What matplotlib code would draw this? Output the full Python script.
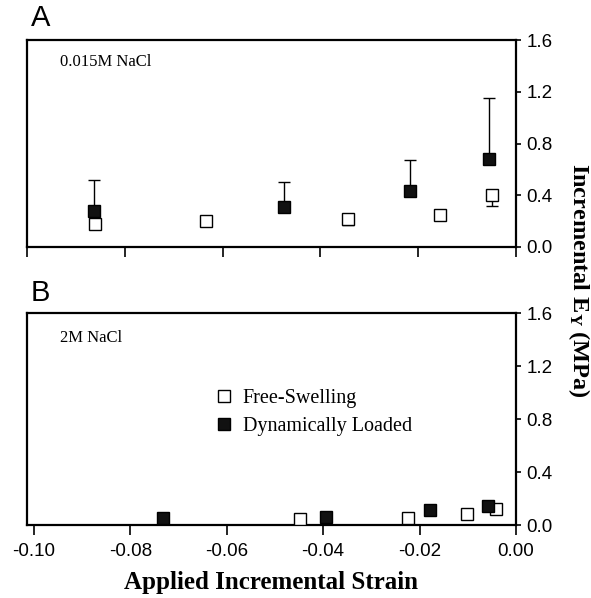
import numpy as np
import matplotlib
matplotlib.use("Agg")
import matplotlib.pyplot as plt

# panel A: 0.015M NaCl
a_free_x = [-0.0860, -0.0633, -0.0344, -0.0156, -0.0049]
a_free_y = [0.18, 0.20, 0.22, 0.25, 0.40]
a_free_err_lo = [0.0, 0.0, 0.05, 0.0, 0.08]
a_dyn_x = [-0.0862, -0.0474, -0.0217, -0.0056]
a_dyn_y = [0.28, 0.31, 0.43, 0.68]
a_dyn_err_hi = [0.24, 0.19, 0.24, 0.47]

# panel B: 2M NaCl
b_free_x = [-0.0447, -0.0224, -0.0102, -0.0041]
b_free_y = [0.045, 0.055, 0.083, 0.12]
b_dyn_x = [-0.0732, -0.0394, -0.0178, -0.0058]
b_dyn_y = [0.05, 0.06, 0.11, 0.146]
b_dyn_err_hi = [0.0, 0.0, 0.0, 0.03]

xticks = [-0.10, -0.08, -0.06, -0.04, -0.02, 0.00]
yticks = [0.0, 0.4, 0.8, 1.2, 1.6]

plt.rcParams["axes.unicode_minus"] = False
plt.rcParams["mathtext.fontset"] = "custom"
plt.rcParams["mathtext.rm"] = "Liberation Serif:bold"
plt.rcParams["mathtext.it"] = "Liberation Serif:bold"

sans = "Liberation Sans"
serif = "Liberation Serif"

fig = plt.figure(figsize=(5.91, 5.98), dpi=100)
axA = fig.add_axes([0.0457, 0.587, 0.8274, 0.346])
axB = fig.add_axes([0.0457, 0.122, 0.8274, 0.3545])

ms = 8.5


def style_axis(ax, xlim, labels):
    ax.set_xlim(*xlim)
    ax.set_ylim(0, 1.6)
    ax.set_xticks(xticks)
    ax.set_yticks(yticks)
    ax.set_yticklabels([f"{v:.1f}" for v in yticks], family=sans, fontsize=13.5)
    if labels:
        ax.set_xticklabels([f"{v:.2f}" for v in xticks], family=sans, fontsize=13.5)
    else:
        ax.set_xticklabels([])
    ax.yaxis.tick_right()
    ax.tick_params(axis="y", direction="out", length=3.5, width=1.2, pad=4)
    ax.tick_params(axis="x", direction="out", length=7.0, width=1.2, pad=6)
    for s in ax.spines.values():
        s.set_linewidth(1.6)


def draw(ax, fx, fy, dx, dy, f_lo=None, d_hi=None):
    n = len(fx)
    fe = None if f_lo is None else [f_lo, [0] * n]
    ax.errorbar(fx, fy, yerr=fe, fmt="s", ms=ms, mfc="white", mec="black",
                mew=1.0, ecolor="black", elinewidth=1.0, capsize=4, zorder=3)
    m = len(dx)
    de = None if d_hi is None else [[0] * m, d_hi]
    ax.errorbar(dx, dy, yerr=de, fmt="s", ms=ms, mfc="#111111", mec="black",
                mew=1.0, ecolor="black", elinewidth=1.0, capsize=4, zorder=4)


draw(axA, a_free_x, a_free_y, a_dyn_x, a_dyn_y, a_free_err_lo, a_dyn_err_hi)
style_axis(axA, (-0.10, 0.0), False)
axA.text(0.067, 0.893, "0.015M NaCl", transform=axA.transAxes, family=serif,
         fontsize=12, va="center", ha="left")

draw(axB, b_free_x, b_free_y, b_dyn_x, b_dyn_y, None, b_dyn_err_hi)
style_axis(axB, (-0.1014, 0.0), True)
axB.text(0.067, 0.88, "2M NaCl", transform=axB.transAxes, family=serif,
         fontsize=12, va="center", ha="left")

# legend handles
h1, = axB.plot([], [], "s", ms=ms, mfc="white", mec="black", mew=1.0)
h2, = axB.plot([], [], "s", ms=ms, mfc="#111111", mec="black", mew=1.0)
fig.legend([h1, h2], ["Free-Swelling", "Dynamically Loaded"],
           loc="center left", bbox_to_anchor=(0.365, 0.310), frameon=False,
           prop={"family": serif, "size": 14.5}, handlelength=0.8,
           handletextpad=0.55, labelspacing=0.45, borderpad=0, borderaxespad=0)

fig.text(0.068, 0.970, "A", family=sans, fontsize=21, ha="center", va="center")
fig.text(0.068, 0.510, "B", family=sans, fontsize=21, ha="center", va="center")

fig.text(0.4577, 0.026, "Applied Incremental Strain", family=serif,
         fontweight="bold", fontsize=18, ha="center", va="center")
fig.text(0.980, 0.531, "Incremental E$_\\mathrm{Y}$ (MPa)", family=serif,
         fontweight="bold", fontsize=17.5, rotation=270, ha="center", va="center")

fig.savefig("out.png", dpi=100)
